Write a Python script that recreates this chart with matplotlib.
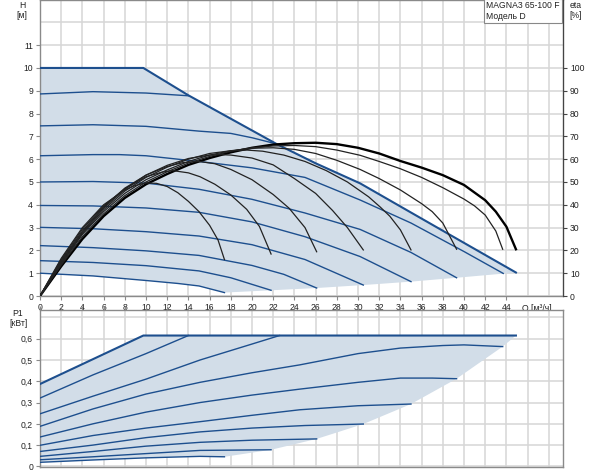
import matplotlib.pyplot as plt
import numpy as np

plt.rcParams['font.family'] = ['Liberation Sans', 'DejaVu Sans']
plt.rcParams['font.size'] = 6.2
plt.rcParams['text.color'] = '#222222'
plt.rcParams['xtick.labelcolor'] = '#222222'
plt.rcParams['ytick.labelcolor'] = '#222222'

# --- Q-H curves (m), first one is the max curve ---
qh_q = [
    [0, 9.75, 14, 22.3, 26, 30.2, 35, 40, 44.9],
    [0, 5, 10, 14],
    [0, 5, 10, 15, 18, 20, 22.3],
    [0, 5, 7.5, 10, 15, 20, 25, 30.2, 35, 40, 43.7],
    [0, 5, 10, 15, 20, 25, 30.2, 35, 39.3],
    [0, 5, 10, 15, 20, 25, 30.2, 35],
    [0, 5, 10, 15, 20, 25, 30.5],
    [0, 5, 10, 15, 20, 23, 26.1],
    [0, 5, 10, 15, 18, 21.8],
    [0, 5, 10, 13, 15, 17.4],
]
qh_h = [
    [10, 10, 8.8, 6.67, 5.82, 4.94, 3.66, 2.33, 1.03],
    [8.86, 8.96, 8.9, 8.78],
    [7.46, 7.51, 7.44, 7.23, 7.13, 6.94, 6.67],
    [6.15, 6.2, 6.2, 6.15, 5.9, 5.62, 5.2, 4.21, 3.2, 1.95, 0.99],
    [5.0, 5.02, 4.95, 4.68, 4.24, 3.64, 2.92, 1.91, 0.8],
    [3.97, 3.95, 3.86, 3.67, 3.25, 2.6, 1.73, 0.63],
    [3.01, 2.95, 2.82, 2.63, 2.25, 1.6, 0.48],
    [2.21, 2.12, 1.98, 1.78, 1.34, 0.95, 0.35],
    [1.55, 1.47, 1.33, 1.1, 0.8, 0.25],
    [1.0, 0.88, 0.68, 0.55, 0.44, 0.15],
]

# --- efficiency curves (%), first one is the max curve ---
eta_q = [
    [0, 2, 4, 6, 8, 10, 12, 14, 16, 18, 20, 22, 24, 26, 28, 30, 32, 34, 36, 38, 40, 42, 43, 44, 44.9],
    [0, 2, 4, 6, 8, 10, 12, 14, 16, 18, 20, 22, 24, 26, 28, 30.2, 32, 34, 36, 38, 40, 41, 42, 43, 43.65],
    [0, 2, 4, 6, 8, 10, 12, 14, 16, 18, 20, 22, 24, 26, 28, 30.2, 32, 34, 36, 37, 38, 39.3],
    [0, 2, 4, 6, 8, 10, 12, 14, 16, 18, 19.5, 21, 23, 25, 27, 29, 31, 32.1, 33, 34, 35],
    [0, 2, 4, 6, 8, 10, 12, 14, 16, 17, 18, 20, 22, 24, 26, 27.6, 29, 30.5],
    [0, 2, 4, 6, 8, 10, 12, 13.5, 15, 16.5, 18, 20, 22, 23.5, 25, 26.1],
    [0, 2, 4, 6, 8, 10, 11.5, 12.5, 14, 15.1, 16.5, 18, 19.5, 20.7, 21.8],
    [0, 2, 4, 6, 8, 9, 10, 11, 12, 13, 14, 15, 16, 16.8, 17.4],
]
eta_v = [
    [0, 13, 25, 35, 43, 49, 53.5, 57.5, 60.5, 63, 65, 66.4, 67, 67.2, 66.6, 65, 62.5, 59.2, 56.3, 53, 48.7, 42, 37, 30.4, 20.5],
    [0, 13.5, 26, 36, 44, 50, 54.5, 58.3, 61.2, 63.5, 65, 65.8, 66, 65.5, 64, 61.7, 59, 55.8, 52, 47.5, 42.5, 39.5, 35.5, 28.5, 20.5],
    [0, 14, 27, 37, 45, 51, 55.3, 59, 61.8, 63.7, 64.8, 65, 64.3, 62.5, 59.5, 55.5, 51.5, 46.5, 40.5, 37, 32, 20.5],
    [0, 14.5, 27.5, 37.8, 46, 52, 56.5, 60, 62.5, 63.7, 64, 63.5, 61.8, 59, 55, 50, 43.5, 39, 35, 29, 20.2],
    [0, 15, 28, 38.5, 46.8, 53, 57.3, 60.3, 61.8, 62, 61.8, 60.5, 57.5, 51.5, 45, 37.5, 30, 20.2],
    [0, 15.5, 28.5, 39, 47.3, 53, 56.8, 58.5, 59, 58, 55.5, 51, 44.5, 38.5, 30, 19.4],
    [0, 16, 29.3, 39.5, 47, 52.3, 54.3, 55, 54, 52.3, 49, 44.3, 38, 30.5, 18.4],
    [0, 16.5, 30, 40, 46.5, 48.5, 49.6, 49.4, 48, 45.3, 41.5, 37, 31, 24.5, 16],
]

# --- power curves P1 (kW), first one is the max curve ---
p1_q = [
    [0, 9.75, 44.9],
    [0, 5, 10, 14],
    [0, 5, 10, 15.1, 20, 22.6],
    [0, 5, 10, 15.1, 20, 24.5, 30, 34, 38, 40, 43.65],
    [0, 5, 10, 15.1, 20, 24.5, 30, 34, 37, 39.3],
    [0, 5, 10, 15.1, 20, 24.5, 30, 35],
    [0, 5, 10, 15.1, 20, 25, 30.5],
    [0, 5, 10, 15.1, 20, 26.1],
    [0, 5, 10, 15.1, 21.8],
    [0, 5, 10, 15.1, 17.4],
]
p1_v = [
    [0.387, 0.615, 0.615],
    [0.321, 0.43, 0.53, 0.615],
    [0.247, 0.33, 0.41, 0.5, 0.575, 0.615],
    [0.188, 0.27, 0.34, 0.395, 0.44, 0.477, 0.53, 0.556, 0.568, 0.571, 0.563],
    [0.138, 0.2, 0.255, 0.3, 0.335, 0.363, 0.395, 0.415, 0.415, 0.412],
    [0.099, 0.145, 0.18, 0.21, 0.24, 0.266, 0.285, 0.293],
    [0.07, 0.1, 0.135, 0.162, 0.18, 0.192, 0.199],
    [0.047, 0.07, 0.095, 0.113, 0.123, 0.129],
    [0.031, 0.045, 0.06, 0.075, 0.078],
    [0.019, 0.03, 0.04, 0.047, 0.045],
]

q_ticks = list(range(0, 45, 2))
h_ticks = list(range(0, 12))
eta_ticks = list(range(0, 101, 10))
p1_ticks = [0, 0.1, 0.2, 0.3, 0.4, 0.5, 0.6]

blue = '#1d4f8e'
fill_c = '#d2dde8'
grid_c = '#d6d6d6'
spine_c = '#8a8a8a'

fig = plt.figure(figsize=(6, 4.74), dpi=100)
ax = fig.add_axes([40 / 600, 1 - 296 / 474, 523 / 600, 296 / 474])
ax2 = ax.twinx()
axp = fig.add_axes([40 / 600, 1 - 467 / 474, 523 / 600, 157 / 474])

xmax = 49.34


def setup_grid(a, ylines):
    for x in range(0, 49, 2):
        a.axvline(x, color=grid_c, lw=1.1, zorder=0)
    for y in ylines:
        a.axhline(y, color=grid_c, lw=1.1, zorder=0)
    for s in a.spines.values():
        s.set_color(spine_c)
        s.set_linewidth(1.0)


# ---------- top: H and eta ----------
ax.set_xlim(0, xmax)
ax.set_ylim(0, 12.98)
setup_grid(ax, range(0, 13))

# shaded operating area
top_q = qh_q[0]
top_h = qh_h[0]
ends_q = [q[-1] for q in qh_q[3:]]
ends_h = [h[-1] for h in qh_h[3:]]
low_q = qh_q[-1][::-1]
low_h = qh_h[-1][::-1]
poly_q = list(top_q) + ends_q[1:] + low_q[1:]
poly_h = list(top_h) + ends_h[1:] + low_h[1:]
ax.fill(poly_q, poly_h, color=fill_c, lw=0, zorder=1)

for i, (q, h) in enumerate(zip(qh_q, qh_h)):
    ax.plot(q, h, color=blue, lw=1.5 if i == 0 else 1.0, zorder=3)

ax2.set_ylim(0, 129.8)
for i, (q, e) in enumerate(zip(eta_q, eta_v)):
    ax2.plot(q, e, color='black' if i == 0 else '#222222',
             lw=1.7 if i == 0 else 0.9, zorder=4)

ax.set_xticks(q_ticks)
ax.set_xticklabels([str(v) for v in q_ticks])
ax.set_yticks(h_ticks)
ax.set_yticklabels([str(v) for v in h_ticks])
ax.tick_params(length=3, width=0.8, color=spine_c, pad=2)
ax2.set_yticks(eta_ticks)
ax2.set_yticklabels([str(v) for v in eta_ticks])
ax2.tick_params(length=3, width=0.8, color='#444444', pad=2)
for s in ax2.spines.values():
    s.set_visible(False)
ax2.spines['right'].set_visible(True)
ax2.spines['right'].set_color('#444444')

ax.text(46.9, -0.35, 'Q [м³/ч]', ha='center', va='top')
fig.text(22 / 600, 1 - 5 / 474, 'H', ha='center', va='center')
fig.text(22 / 600, 1 - 16 / 474, '[м]', ha='center', va='center')
fig.text(576 / 600, 1 - 5 / 474, 'eta', ha='center', va='center')
fig.text(576 / 600, 1 - 16 / 474, '[%]', ha='center', va='center')
ax.text(0.994, 0.997, 'MAGNA3 65-100 F\nМодель D', transform=ax.transAxes,
        ha='right', va='top', multialignment='left', linespacing=1.3, zorder=6,
        bbox=dict(boxstyle='square,pad=0.25', fc='white', ec='#888888', lw=0.8))

# ---------- bottom: P1 ----------
axp.set_xlim(0, xmax)
axp.set_ylim(-0.003, 0.735)
setup_grid(axp, [0, 0.1, 0.2, 0.3, 0.4, 0.5, 0.6, 0.7])

p_top_q = p1_q[0]
p_top_v = p1_v[0]
pe_q = [q[-1] for q in p1_q[3:]]
pe_v = [v[-1] for v in p1_v[3:]]
pl_q = p1_q[-1][::-1]
pl_v = p1_v[-1][::-1]
axp.fill(list(p_top_q) + pe_q + pl_q[1:], list(p_top_v) + pe_v + pl_v[1:],
         color=fill_c, lw=0, zorder=1)
for i, (q, v) in enumerate(zip(p1_q, p1_v)):
    axp.plot(q, v, color=blue, lw=1.5 if i == 0 else 1.0, zorder=3)

axp.set_xticks(q_ticks)
axp.xaxis.tick_top()
axp.set_xticklabels([])
axp.set_yticks(p1_ticks)
axp.set_yticklabels(['0'] + [f'{v:.1f}'.replace('.', ',') for v in p1_ticks[1:]])
axp.tick_params(length=3, width=0.8, color=spine_c, pad=2)
fig.text(18 / 600, 1 - 313 / 474, 'P1', ha='center', va='center')
fig.text(18 / 600, 1 - 324 / 474, '[кВт]', ha='center', va='center')

fig.savefig('out.png', dpi=100)
